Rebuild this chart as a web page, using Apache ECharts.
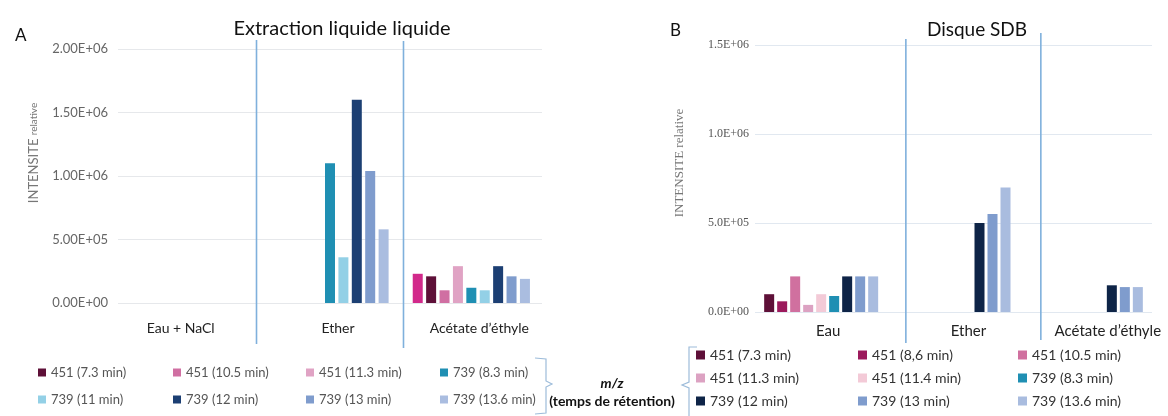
<!DOCTYPE html>
<html><head><meta charset="utf-8">
<script src="https://cdn.jsdelivr.net/npm/echarts@6/dist/echarts.min.js"></script>
<style>
html,body{margin:0;padding:0;background:#fff;width:1168px;height:416px;overflow:hidden}
#a{position:absolute;left:0;top:0;width:700px;height:416px}
#b{position:absolute;left:640px;top:0;width:528px;height:416px}
</style></head><body><div id="a"></div><div id="b"></div>
<script>
// ---------- Panel A : Extraction liquide liquide ----------
const catsA = ['Eau + NaCl', 'Ether', 'Acétate d’éthyle'];
const a451_86 = [0, 0, 230000];      // magenta bar (not listed in legend A)
const a451_73 = [0, 0, 210000];
const a451_105 = [0, 0, 100000];
const a451_113 = [0, 0, 290000];
const a739_83 = [0, 1100000, 120000];
const a739_11 = [0, 360000, 100000];
const a739_12 = [0, 1600000, 290000];
const a739_13 = [0, 1040000, 210000];
const a739_136 = [0, 580000, 190000];
const ticksA = [0, 500000, 1000000, 1500000, 2000000];

// ---------- Panel B : Disque SDB ----------
const catsB = ['Eau', 'Ether', 'Acétate d’éthyle'];
const b451_73 = [100000, 0, 0];
const b451_86 = [60000, 0, 0];
const b451_105 = [200000, 0, 0];
const b451_113 = [40000, 0, 0];
const b451_114 = [100000, 0, 0];
const b739_83 = [90000, 0, 0];
const b739_12 = [200000, 500000, 150000];
const b739_13 = [200000, 550000, 140000];
const b739_136 = [200000, 700000, 140000];
const ticksB = [0, 500000, 1000000, 1500000];

function sci(v, d) {
  const parts = Number(v).toExponential(d).split('e');
  const n = parseInt(parts[1], 10);
  return parts[0] + 'E' + (n < 0 ? '-' : '+') + String(Math.abs(n)).padStart(2, '0');
}

const SANS = 'Lato, "Open Sans", sans-serif';
const SERIF = '"Liberation Serif", "DejaVu Serif", serif';

function bar(name, data, color) {
  return { name: name, type: 'bar', data: data, barWidth: 10, itemStyle: { color: color }, silent: true, animation: false };
}
// small label nudges (labels in the original are placed by hand)
function catData(cats, pads) {
  return cats.map((c, i) => ({ value: c, textStyle: { padding: pads[i] } }));
}

// ---------------- Chart A ----------------
const chartA = echarts.init(document.getElementById('a'), null, { renderer: 'canvas' });
const seriesA = [
  bar('451 (8,6 min)', a451_86, '#d2298b'),
  bar('451 (7.3 min)', a451_73, '#5e1038'),
  bar('451 (10.5 min)', a451_105, '#d06fa2'),
  bar('451 (11.3 min)', a451_113, '#e0a3c4'),
  bar('739 (8.3 min)', a739_83, '#1f8fb3'),
  bar('739 (11 min)', a739_11, '#93d0e6'),
  bar('739 (12 min)', a739_12, '#1c3f73'),
  bar('739 (13 min)', a739_13, '#7f9ccd'),
  bar('739 (13.6 min)', a739_136, '#aabde0')
];
seriesA[0].barGap = '34%';
const legColsA = [
  ['451 (7.3 min)', '739 (11 min)'],
  ['451 (10.5 min)', '739 (12 min)'],
  ['451 (11.3 min)', '739 (13 min)'],
  ['739 (8.3 min)', '739 (13.6 min)']
];
const legLeftA = [38, 173, 306, 440];
const legendA = legColsA.map((d, i) => ({
  data: d, orient: 'vertical', left: legLeftA[i], top: 366, padding: 0,
  itemWidth: 8, itemHeight: 8, itemGap: 14, icon: 'rect', selectedMode: false,
  textStyle: { fontFamily: SANS, fontSize: 13, color: '#555' }
}));

chartA.setOption({
  animation: false,
  grid: { left: 118, right: 158, top: 49, bottom: 113 },
  title: [
    { text: 'Extraction liquide liquide', left: 337, top: 14, textAlign: 'center',
      textStyle: { fontFamily: SANS, fontSize: 20, fontWeight: 'normal', color: '#111' } },
    { text: 'A', left: 10, top: 22, textStyle: { fontFamily: SANS, fontSize: 17, fontWeight: 'normal', color: '#111' } }
  ],
  legend: legendA,
  xAxis: {
    type: 'category', data: catData(catsA, [[0, 16, 0, 0], [0, 0, 0, 16], [0, 0, 0, 16]]),
    axisLine: { show: false }, axisTick: { show: false },
    axisLabel: { interval: 0, fontFamily: SANS, fontSize: 14, color: '#222', margin: 18 }
  },
  yAxis: {
    type: 'value', min: 0, max: 2000000, interval: 500000,
    axisLine: { show: false }, axisTick: { show: false },
    axisLabel: { fontFamily: SANS, fontSize: 13, color: '#666', margin: 10,
      formatter: v => ticksA.indexOf(v) >= 0 ? sci(v, 2) : '' },
    splitLine: { lineStyle: { color: '#e6e8eb', width: 1.2 } }
  },
  series: seriesA
});

function separators(chart, cats, offsets, tops, bottom) {
  const c0 = chart.convertToPixel({ xAxisIndex: 0 }, cats[0]);
  const c1 = chart.convertToPixel({ xAxisIndex: 0 }, cats[1]);
  const c2 = chart.convertToPixel({ xAxisIndex: 0 }, cats[2]);
  const w = c1 - c0;
  const xs = [(c0 + c1) / 2 + offsets[0] * w, (c1 + c2) / 2 + offsets[1] * w];
  return xs.map((x, i) => ({
    type: 'line', silent: true,
    shape: { x1: x, y1: tops[i], x2: x, y2: bottom[i] },
    style: { stroke: '#7fb0dc', lineWidth: 1.6 }
  }));
}

const gA = separators(chartA, catsA, [-0.02, 0.02], [40, 41], [344, 348]);
gA.push({
  type: 'text', silent: true, rotation: Math.PI / 2, x: 34, y: 153,
  style: { text: '{a|INTENSITE} {b|relative}', align: 'center', verticalAlign: 'middle',
    rich: { a: { fontFamily: SANS, fontSize: 13, fill: '#777' }, b: { fontFamily: SANS, fontSize: 10, fill: '#777' } } }
});
gA.push({
  type: 'polyline', silent: true,
  shape: { points: [[535, 358], [546, 359], [546, 381], [552, 384], [546, 387], [546, 413], [535, 414]] },
  style: { stroke: '#9dbcda', lineWidth: 1.2, fill: null }
});
gA.push({ type: 'text', silent: true, x: 612, y: 383,
  style: { text: 'm/z', align: 'center', verticalAlign: 'middle', fontFamily: SANS, fontSize: 14, fontStyle: 'italic', fontWeight: 'bold', fill: '#111' } });
gA.push({ type: 'text', silent: true, x: 612, y: 401,
  style: { text: '(temps de rétention)', align: 'center', verticalAlign: 'middle', fontFamily: SANS, fontSize: 14, fontWeight: 'bold', fill: '#111' } });
chartA.setOption({ graphic: gA });

// ---------------- Chart B ----------------
const chartB = echarts.init(document.getElementById('b'), null, { renderer: 'canvas' });
const seriesB = [
  bar('451 (7.3 min)', b451_73, '#5e1038'),
  bar('451 (8,6 min)', b451_86, '#9c1a5c'),
  bar('451 (10.5 min)', b451_105, '#d0709f'),
  bar('451 (11.3 min)', b451_113, '#dca2c2'),
  bar('451 (11.4 min)', b451_114, '#f3cad7'),
  bar('739 (8.3 min)', b739_83, '#1f8fb3'),
  bar('739 (12 min)', b739_12, '#0e2447'),
  bar('739 (13 min)', b739_13, '#7f9ccd'),
  bar('739 (13.6 min)', b739_136, '#a9bcdf')
];
seriesB[0].barGap = '30%';
const legColsB = [
  ['451 (7.3 min)', '451 (11.3 min)', '739 (12 min)'],
  ['451 (8,6 min)', '451 (11.4 min)', '739 (13 min)'],
  ['451 (10.5 min)', '739 (8.3 min)', '739 (13.6 min)']
];
const legLeftB = [56, 218, 378];
const legendB = legColsB.map((d, i) => ({
  data: d, orient: 'vertical', left: legLeftB[i], top: 348, padding: 0,
  itemWidth: 9, itemHeight: 9, itemGap: 9, icon: 'rect', selectedMode: false,
  textStyle: { fontFamily: SANS, fontSize: 14, color: '#333' }
}));

chartB.setOption({
  animation: false,
  grid: { left: 115, right: 16, top: 45, bottom: 104 },
  title: [
    { text: 'Disque SDB', left: 332, top: 15, textAlign: 'center',
      textStyle: { fontFamily: SANS, fontSize: 19, fontWeight: 'normal', color: '#111' } },
    { text: 'B', left: 25, top: 17, textStyle: { fontFamily: SANS, fontSize: 17, fontWeight: 'normal', color: '#111' } }
  ],
  legend: legendB,
  xAxis: {
    type: 'category', data: catData(catsB, [[0, 0, 0, 14], [0, 0, 0, 30], [0, 0, 0, 44]]),
    axisLine: { show: false }, axisTick: { show: false },
    axisLabel: { interval: 0, fontFamily: SANS, fontSize: 15, color: '#222', margin: 12 }
  },
  yAxis: {
    type: 'value', min: 0, max: 1500000, interval: 500000,
    axisLine: { show: false }, axisTick: { show: false },
    axisLabel: { fontFamily: SERIF, fontSize: 12, color: '#555', margin: 6,
      formatter: v => ticksB.indexOf(v) >= 0 ? sci(v, 1) : '' },
    splitLine: { lineStyle: { color: '#e1e8f0', width: 1.2 } }
  },
  series: seriesB
});

const gB = separators(chartB, catsB, [0.14, 0.16], [39, 33], [343, 340]);
gB.push({
  type: 'text', silent: true, rotation: Math.PI / 2, x: 40, y: 163,
  style: { text: 'INTENSITE relative', align: 'center', verticalAlign: 'middle',
    fontFamily: SERIF, fontSize: 13, fill: '#777' }
});
gB.push({
  type: 'polyline', silent: true,
  shape: { points: [[57, 347], [49, 347], [49, 382], [42, 385], [49, 388], [49, 416]] },
  style: { stroke: '#9dbcda', lineWidth: 1.2, fill: null }
});
chartB.setOption({ graphic: gB });
</script>
</body></html>
